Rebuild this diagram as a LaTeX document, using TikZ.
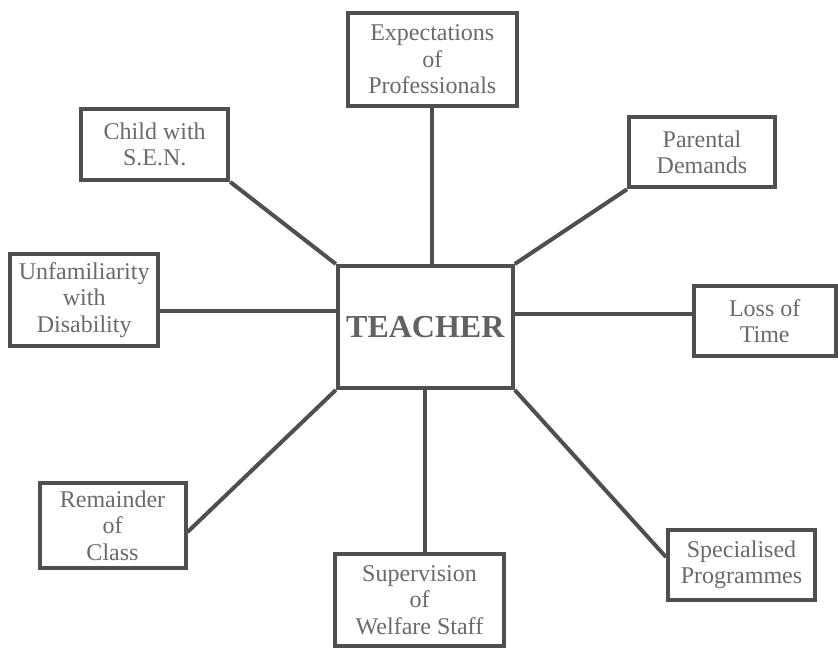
\documentclass[tikz,border=0pt]{standalone}
\usepackage{fontspec}
\setmainfont{Liberation Serif}
\usepackage{tikz}
\definecolor{inkgray}{HTML}{4F4F4F}
\definecolor{textgray}{HTML}{6A6A6A}
\tikzstyle{block} = [rectangle, draw=inkgray, line width=4pt, fill=white, text=textgray, align=center, inner sep=0pt, font=\fontsize{24}{26.5}\selectfont]
\tikzstyle{blockc} = [block, font=\fontsize{32}{36}\selectfont\bfseries, text=inkgray!90]
\tikzstyle{line} = [draw=inkgray, line width=4pt]

\begin{document}
\begin{tikzpicture}[x=1pt, y=-1pt]
    \useasboundingbox [fill=white] (0,0) rectangle (838,650);
    \node [blockc, minimum width=175pt, minimum height=122pt] (teacher) at (425.3,327) {TEACHER};
    \node [block, minimum width=169pt, minimum height=93pt] (expect) at (432.3,59.5) {Expectations\\of\\Professionals};
    \node [block, minimum width=147pt, minimum height=71pt] (child) at (154.7,144.4) {Child with\\S.E.N.};
    \node [block, minimum width=146pt, minimum height=70pt] (parent) at (702,152.3) {Parental\\Demands};
    \node [block, minimum width=148pt, minimum height=92pt] (unfam) at (84.2,299.7) {Unfamiliarity\\with\\Disability};
    \node [block, minimum width=142pt, minimum height=70pt] (loss) at (764.7,321) {Loss of\\Time};
    \node [block, minimum width=146pt, minimum height=85pt] (rem) at (112.5,525.5) {Remainder\\of\\Class};
    \node [block, minimum width=169pt, minimum height=92pt] (super) at (419.5,600) {Supervision\\of\\Welfare Staff};
    \node [block, minimum width=147pt, minimum height=70pt] (spec) at (741.5,565) {Specialised\\Programmes};
    \path [line] (child.south east) -- (teacher.north west);
    \path [line] (expect.south) -- (expect.south |- teacher.north);
    \path [line] (parent.south west) -- (teacher.north east);
    \path [line] (unfam.east |- teacher.170) -- (teacher.170);
    \path [line] (teacher.8) -- (teacher.8 -| loss.west);
    \path [line] (rem.-5) -- (teacher.south west);
    \path [line] (teacher.south) -- (teacher.south |- super.north);
    \path [line] (teacher.south east) -- (spec.174);
\end{tikzpicture}
\end{document}
